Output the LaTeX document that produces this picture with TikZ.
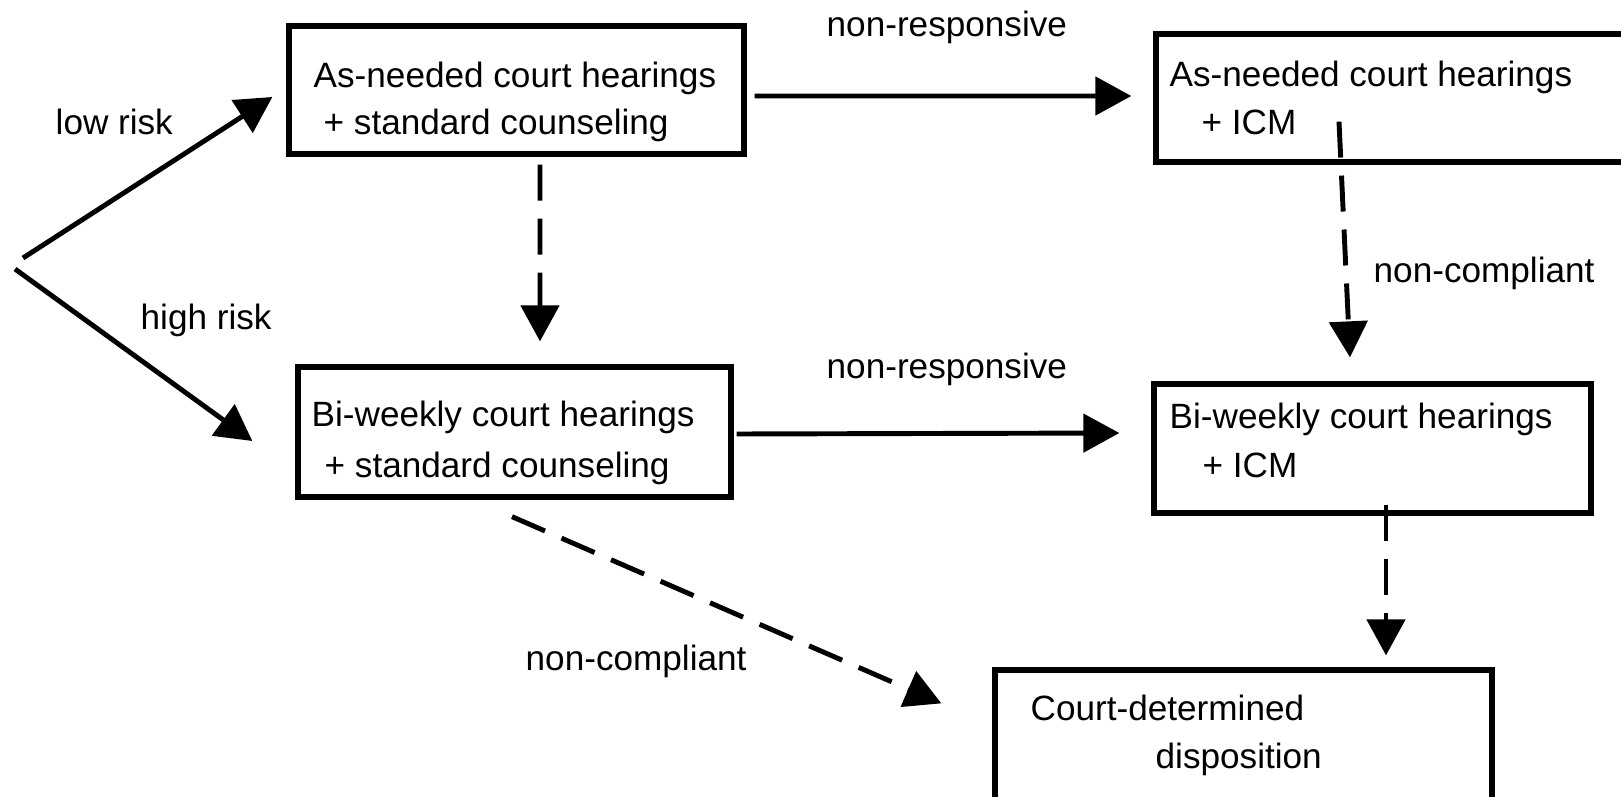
\documentclass[tikz,border=0pt]{standalone}
\usepackage{fontspec}
\setmainfont{Liberation Sans}
\usetikzlibrary{arrows.meta,calc}
\tikzset{
	box/.style 2 args={draw,line width=1.5pt,minimum width=#1,minimum height=#2,inner sep=0pt},
	txt/.style={anchor=base west,inner sep=0pt},
	arr/.style={line width=1.4pt,-{Triangle[length=3.6mm,width=3.8mm]}},
	darr/.style={arr,dash pattern=on 3.6mm off 1.8mm}
}

\begin{document}
\begin{tikzpicture}
	\useasboundingbox (0,0) rectangle (16.21,7.96);

	\node [box={4.55cm}{1.28cm}] (asA) at (5.165,7.06) {};
	\node [box={4.84cm}{1.28cm}] (asB) at (13.98,6.98) {};
	\node [box={4.33cm}{1.30cm}] (biC) at (5.145,3.64) {};
	\node [box={4.37cm}{1.29cm}] (biD) at (13.725,3.475) {};
	\node [box={4.97cm}{1.60cm}] (disp) at (12.435,0.46) {};

	\node [txt] (asA1) at (3.13,7.08) {As-needed court hearings};
	\node [txt] (asA2) at (3.23,6.61) {+ standard counseling};
	\node [txt] (asB1) at (11.69,7.09) {As-needed court hearings};
	\node [txt] (asB2) at (12.01,6.61) {+ ICM};
	\node [txt] (biC1) at (3.11,3.69) {Bi-weekly court hearings};
	\node [txt] (biC2) at (3.24,3.19) {+ standard counseling};
	\node [txt] (biD1) at (11.69,3.68) {Bi-weekly court hearings};
	\node [txt] (biD2) at (12.02,3.19) {+ ICM};
	\node [txt] (disp1) at (10.30,0.76) {Court-determined};
	\node [txt] (disp2) at (11.55,0.28) {disposition};

	\node [txt] (low) at (0.55,6.61) {low risk};
	\node [txt] (high) at (1.40,4.66) {high risk};
	\node [txt] (nrtop) at (8.26,7.59) {non-responsive};
	\node [txt] (nrmid) at (8.26,4.18) {non-responsive};
	\node [txt] (ncright) at (13.73,5.13) {non-compliant};
	\node [txt] (ncleft) at (5.25,1.26) {non-compliant};

	\coordinate (lowroot) at (0.23,5.38);
	\coordinate (highroot) at (0.15,5.27);

	\draw [arr] (lowroot) -- ($(asA.west)+(-0.14,-0.07)$);
	\draw [arr] (highroot) -- ($(biC.west)+(-0.43,-0.09)$);
	\draw [arr] ($(asA.east)+(0.08,-0.06)$) -- ($(asB.west)+(-0.22,0.02)$);
	\draw [arr] ($(biC.east)+(0.03,-0.02)$) -- ($(biD.west)+(-0.32,0.155)$);
	\draw [darr] ($(asA.south)+(0.235,-0.08)$) -- ($(biC.north)+(0.255,0.23)$);
	\draw [darr] ($(asB.south)+(-0.59,0.43)$) -- ($(biD.north)+(-0.225,0.24)$);
	\draw [darr] ($(biD.south)+(0.135,0.11)$) -- ($(disp.north)+(1.425,0.12)$);
	\draw [darr] ($(biC.south)+(-0.025,-0.17)$) -- ($(disp.north west)+(-0.51,-0.36)$);
\end{tikzpicture}
\end{document}
